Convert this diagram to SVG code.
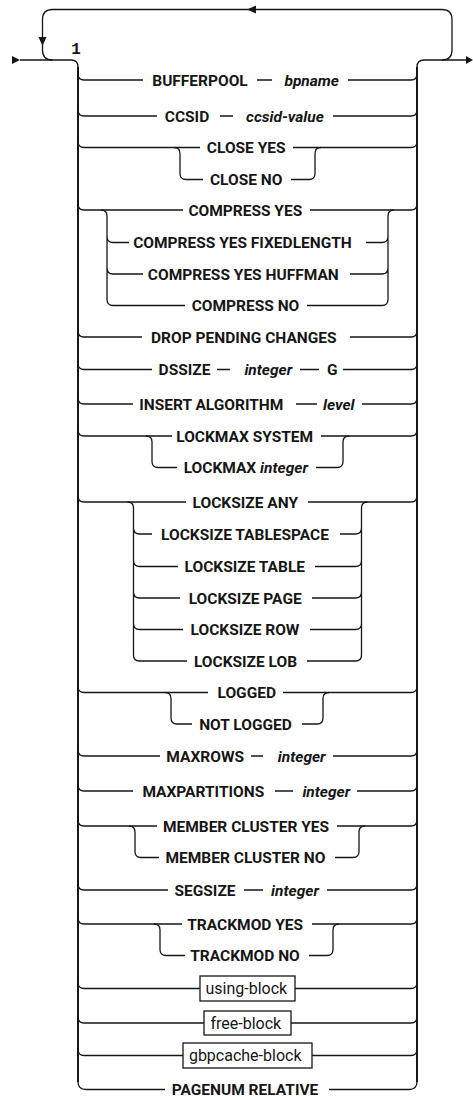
<svg xmlns="http://www.w3.org/2000/svg" width="473" height="1097" viewBox="0 0 473 1097">
<style>
.t{fill:none;stroke:#161616;stroke-width:1.3}
.m{fill:none;stroke:#161616;stroke-width:2}
.ah{fill:#161616}
.kw{font-family:Roboto,"Liberation Sans",Arial,sans-serif;font-size:15.5px;font-weight:bold;fill:#161616;text-anchor:middle}
.v{font-style:italic}
.bl{font-family:Roboto,"Liberation Sans",Arial,sans-serif;font-size:16px;font-weight:normal;fill:#161616;text-anchor:middle}
.bx{fill:#fff;stroke:#161616;stroke-width:1.3}
.fn{font-family:"Liberation Mono","Courier New",monospace;font-size:16px;font-weight:bold;fill:#161616;text-anchor:middle}
</style>
<rect width="473" height="1097" fill="#fff"/>
<g id="connectors">
<path class="m" d="M78,67 V1082 M417,67 V1082"/>
<path class="t" d="M20,60 H71 Q78,60 78,67 M417,67 Q417,60 424,60 H467"/>
<path class="t" d="M442,60 Q452,60 452,50 V19.5 Q452,9.5 442,9.5 H52.5 Q42.5,9.5 42.5,19.5 V50 Q42.5,60 52.5,60"/>
<polygon class="ah" points="12,56 20,60 12,64"/>
<polygon class="ah" points="466,56 473,60 466,64"/>
<polygon class="ah" points="247,9.5 256,5.5 256,13.5"/>
<polygon class="ah" points="38.5,37 46.5,37 42.5,46"/>
<path class="t" d="M78,74 Q78,80 84,80 H143 M257,80 H272 M348,80 H411 Q417,80 417,74"/>
<path class="t" d="M78,110 Q78,116 84,116 H157 M220,116 H233 M333,116 H411 Q417,116 417,110"/>
<path class="t" d="M78,141.5 Q78,147.5 84,147.5 H200 M293,147.5 H411 Q417,147.5 417,141.5"/>
<path class="t" d="M174,147.5 Q180,147.5 180,153.5 V173.5 Q180,179.5 186,179.5 H203 M291,179.5 H309 Q315,179.5 315,173.5 V153.5 Q315,147.5 321,147.5"/>
<path class="t" d="M78,204 Q78,210 84,210 H183 M310,210 H411 Q417,210 417,204"/>
<path class="t" d="M101,210 Q107,210 107,216 V299.5 Q107,305.5 113,305.5 H185 M107,236.5 Q107,242.5 113,242.5 H129 M107,268 Q107,274 113,274 H143"/>
<path class="t" d="M366,242.5 H382 Q388,242.5 388,236.5 M350,274 H382 Q388,274 388,268 M307,305.5 H382 Q388,305.5 388,299.5 V216 Q388,210 394,210"/>
<path class="t" d="M78,331 Q78,337 84,337 H142 M350,337 H411 Q417,337 417,331"/>
<path class="t" d="M78,363.5 Q78,369.5 84,369.5 H152 M217,369.5 H230 M300,369.5 H319 M343,369.5 H411 Q417,369.5 417,363.5"/>
<path class="t" d="M78,398 Q78,404 84,404 H133 M296,404 H317 M362,404 H411 Q417,404 417,398"/>
<path class="t" d="M78,430 Q78,436 84,436 H172 M321,436 H411 Q417,436 417,430"/>
<path class="t" d="M146,436 Q152,436 152,442 V461.5 Q152,467.5 158,467.5 H177 M316,467.5 H337 Q343,467.5 343,461.5 V442 Q343,436 349,436"/>
<path class="t" d="M78,496 Q78,502 84,502 H186 M308,502 H411 Q417,502 417,496"/>
<path class="t" d="M127.5,502 Q133.5,502 133.5,508 V655 Q133.5,661 139.5,661 H187 M133.5,528 Q133.5,534 139.5,534 H152 M133.5,560.5 Q133.5,566.5 139.5,566.5 H178 M133.5,592 Q133.5,598 139.5,598 H180 M133.5,623.5 Q133.5,629.5 139.5,629.5 H183"/>
<path class="t" d="M340,534 H355.5 Q361.5,534 361.5,528 M315,566.5 H355.5 Q361.5,566.5 361.5,560.5 M312,598 H355.5 Q361.5,598 361.5,592 M310,629.5 H355.5 Q361.5,629.5 361.5,623.5 M307,661 H355.5 Q361.5,661 361.5,655 V508 Q361.5,502 367.5,502"/>
<path class="t" d="M78,686.5 Q78,692.5 84,692.5 H208 M283,692.5 H411 Q417,692.5 417,686.5"/>
<path class="t" d="M165,692.5 Q171,692.5 171,698.5 V718 Q171,724 177,724 H192 M302,724 H317 Q323,724 323,718 V698.5 Q323,692.5 329,692.5"/>
<path class="t" d="M78,750 Q78,756 84,756 H160 M251,756 H263 M333,756 H411 Q417,756 417,750"/>
<path class="t" d="M78,785 Q78,791 84,791 H133 M275,791 H293 M357,791 H411 Q417,791 417,785"/>
<path class="t" d="M78,820 Q78,826 84,826 H157 M337,826 H411 Q417,826 417,820"/>
<path class="t" d="M129,826 Q135,826 135,832 V851.5 Q135,857.5 141,857.5 H159 M335,857.5 H353 Q359,857.5 359,851.5 V832 Q359,826 365,826"/>
<path class="t" d="M78,884 Q78,890 84,890 H168 M244,890 H263 M327,890 H411 Q417,890 417,884"/>
<path class="t" d="M78,918 Q78,924 84,924 H182 M312,924 H411 Q417,924 417,918"/>
<path class="t" d="M154,924 Q160,924 160,930 V949.5 Q160,955.5 166,955.5 H185 M309,955.5 H327 Q333,955.5 333,949.5 V930 Q333,924 339,924"/>
<path class="t" d="M78,982.5 Q78,988.5 84,988.5 H200 M295,988.5 H411 Q417,988.5 417,982.5"/>
<path class="t" d="M78,1017 Q78,1023 84,1023 H204 M291,1023 H411 Q417,1023 417,1017"/>
<path class="t" d="M78,1049.5 Q78,1055.5 84,1055.5 H183 M312,1055.5 H411 Q417,1055.5 417,1049.5"/>
<path class="t" d="M78,1081.5 Q78,1089.5 86,1089.5 H165 M329,1089.5 H409 Q417,1089.5 417,1081.5"/>
</g>
<g id="n-footnote"><text class="fn" x="76" y="54">1</text></g>
<g id="n-bufferpool"><text class="kw" x="200" y="85.5">BUFFERPOOL</text><text class="kw v" x="311.7" y="85.5">bpname</text></g>
<g id="n-ccsid"><text class="kw" x="187" y="121.5">CCSID</text><text class="kw v" x="285" y="121.5">ccsid-value</text></g>
<g id="n-close-yes"><text class="kw" x="246.2" y="153">CLOSE YES</text></g>
<g id="n-close-no"><text class="kw" x="246.2" y="185">CLOSE NO</text></g>
<g id="n-compress-yes"><text class="kw" x="245.3" y="215.5">COMPRESS YES</text></g>
<g id="n-compress-fixed"><text class="kw" x="242.5" y="248">COMPRESS YES FIXEDLENGTH</text></g>
<g id="n-compress-huffman"><text class="kw" x="243.3" y="279.5">COMPRESS YES HUFFMAN</text></g>
<g id="n-compress-no"><text class="kw" x="245.5" y="311">COMPRESS NO</text></g>
<g id="n-drop"><text class="kw" x="243.8" y="342.5">DROP PENDING CHANGES</text></g>
<g id="n-dssize"><text class="kw" x="184.5" y="375">DSSIZE</text><text class="kw v" x="268.3" y="375">integer</text><text class="kw" x="332.2" y="375">G</text></g>
<g id="n-insert"><text class="kw" x="211.3" y="409.5">INSERT ALGORITHM</text><text class="kw v" x="338.8" y="409.5">level</text></g>
<g id="n-lockmax-system"><text class="kw" x="244.7" y="441.5">LOCKMAX SYSTEM</text></g>
<g id="n-lockmax-integer"><text class="kw" x="245.8" y="473">LOCKMAX <tspan font-style="italic">integer</tspan></text></g>
<g id="n-locksize-any"><text class="kw" x="245.3" y="507.5">LOCKSIZE ANY</text></g>
<g id="n-locksize-tablespace"><text class="kw" x="245" y="539.5">LOCKSIZE TABLESPACE</text></g>
<g id="n-locksize-table"><text class="kw" x="244.8" y="572">LOCKSIZE TABLE</text></g>
<g id="n-locksize-page"><text class="kw" x="245.2" y="603.5">LOCKSIZE PAGE</text></g>
<g id="n-locksize-row"><text class="kw" x="245" y="635">LOCKSIZE ROW</text></g>
<g id="n-locksize-lob"><text class="kw" x="245.5" y="666.5">LOCKSIZE LOB</text></g>
<g id="n-logged"><text class="kw" x="246.8" y="698">LOGGED</text></g>
<g id="n-not-logged"><text class="kw" x="245.5" y="729.5">NOT LOGGED</text></g>
<g id="n-maxrows"><text class="kw" x="205.2" y="761.5">MAXROWS</text><text class="kw v" x="301.7" y="761.5">integer</text></g>
<g id="n-maxpartitions"><text class="kw" x="203.3" y="796.5">MAXPARTITIONS</text><text class="kw v" x="326.3" y="796.5">integer</text></g>
<g id="n-member-yes"><text class="kw" x="246" y="831.5">MEMBER CLUSTER YES</text></g>
<g id="n-member-no"><text class="kw" x="245.5" y="863">MEMBER CLUSTER NO</text></g>
<g id="n-segsize"><text class="kw" x="205" y="895.5">SEGSIZE</text><text class="kw v" x="295" y="895.5">integer</text></g>
<g id="n-trackmod-yes"><text class="kw" x="245.2" y="929.5">TRACKMOD YES</text></g>
<g id="n-trackmod-no"><text class="kw" x="245" y="961">TRACKMOD NO</text></g>
<g id="n-using-block"><rect class="bx" x="200" y="976" width="95" height="25"/><text class="bl" x="246.3" y="994">using-block</text></g>
<g id="n-free-block"><rect class="bx" x="204" y="1011" width="87" height="24"/><text class="bl" x="245.8" y="1028.5">free-block</text></g>
<g id="n-gbpcache-block"><rect class="bx" x="183" y="1043" width="129" height="25"/><text class="bl" x="245.2" y="1061">gbpcache-block</text></g>
<g id="n-pagenum"><text class="kw" x="245" y="1094.5">PAGENUM RELATIVE</text></g>
</svg>
